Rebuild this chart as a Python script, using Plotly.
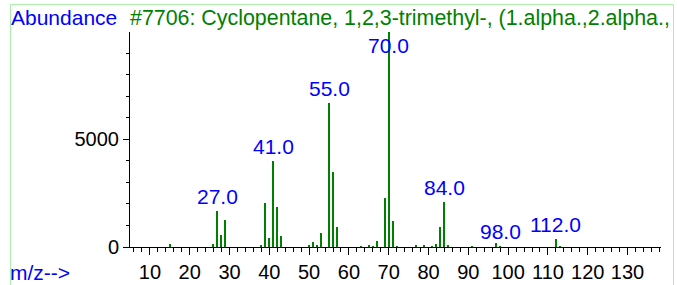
import plotly.graph_objects as go

# ---- data ----
mz = [15, 26, 27, 28, 29, 38, 39, 40, 41, 42, 43, 50, 51, 52, 53, 55, 56, 57,
      63, 65, 66, 67, 69, 70, 71, 72, 77, 79, 81, 82, 83, 84, 85, 91, 97, 98, 112, 113]
abundance = [140, 124, 1656, 580, 1260, 110, 2043, 420, 3978, 1858, 500, 110, 240, 95, 655, 6677, 3485, 940,
             31, 62, 31, 285, 2267, 9999, 1220, 31, 90, 80, 31, 145, 910, 2085, 100, 30, 186, 25, 390, 30]
label_mz = [27, 41, 55, 70, 84, 98, 112]
y_tick_vals = [0, 5000]
x_tick_vals = [10, 20, 30, 40, 50, 60, 70, 80, 90, 100, 110, 120, 130]
title_text = "#7706: Cyclopentane, 1,2,3-trimethyl-, (1.alpha.,2.alpha.,"

# ---- layout constants ----
W, H = 677, 285
ML, MR, MT, MB = 130, 16, 32, 38
PW, PH = W - ML - MR, H - MT - MB
X_RANGE = [5, 138.4]
Y_RANGE = [0, 9990]
FONT = "Liberation Sans, Arial, sans-serif"
GREEN = "#008000"
BLUE = "#0000FF"
BORDER = "#aaeeaa"
TXT = 21


def px2x(px):
    return (px - ML) / PW


def py2y(py):
    return (H - MB - py) / PH


fig = go.Figure()
fig.add_trace(go.Bar(x=mz, y=abundance, width=0.35,
                     marker=dict(color=GREEN, line=dict(width=0)),
                     hoverinfo="x+y"))

annotations = []
ab_map = dict(zip(mz, abundance))
for m in label_mz:
    v = ab_map.get(m, 0)
    if v > 0.85 * Y_RANGE[1]:
        annotations.append(dict(x=m, y=Y_RANGE[1], xref="x", yref="y", text=f"{m:.1f}",
                                showarrow=False, yanchor="top", xanchor="center",
                                font=dict(family=FONT, size=TXT, color=BLUE)))
    else:
        annotations.append(dict(x=m, y=v, xref="x", yref="y", text=f"{m:.1f}",
                                showarrow=False, yanchor="bottom", xanchor="center", yshift=1,
                                font=dict(family=FONT, size=TXT, color=BLUE)))

annotations.append(dict(x=px2x(9), y=py2y(18), xref="paper", yref="paper", text="Abundance",
                        showarrow=False, xanchor="left", yanchor="middle",
                        font=dict(family=FONT, size=TXT, color=BLUE)))
annotations.append(dict(x=px2x(128), y=py2y(18), xref="paper", yref="paper", text=title_text,
                        showarrow=False, xanchor="left", yanchor="middle",
                        font=dict(family=FONT, size=21.4, color=GREEN)))
annotations.append(dict(x=px2x(9), y=py2y(285), xref="paper", yref="paper", text="m/z-->",
                        showarrow=False, xanchor="left", yanchor="bottom", borderpad=0,
                        font=dict(family=FONT, size=TXT, color=BLUE)))

shapes = [
    dict(type="line", xref="paper", yref="paper", x0=px2x(10.5), x1=px2x(10.5), y0=py2y(4.5), y1=py2y(290),
         line=dict(color=BORDER, width=1)),
    dict(type="line", xref="paper", yref="paper", x0=px2x(10.5), x1=px2x(673.5), y0=py2y(4.5), y1=py2y(4.5),
         line=dict(color=BORDER, width=1)),
    dict(type="line", xref="paper", yref="paper", x0=px2x(673.5), x1=px2x(673.5), y0=py2y(4.5), y1=py2y(290),
         line=dict(color=BORDER, width=1)),
]

fig.update_layout(
    width=W, height=H, autosize=False,
    margin=dict(l=ML, r=MR, t=MT, b=MB, pad=0),
    paper_bgcolor="white", plot_bgcolor="white",
    showlegend=False, bargap=0,
    annotations=annotations, shapes=shapes,
    font=dict(family=FONT, color="black"),
)
fig.update_xaxes(range=X_RANGE, tickmode="array", tickvals=x_tick_vals, automargin=False,
                 ticks="outside", ticklen=7, tickwidth=1, tickcolor="black",
                 showline=True, linecolor="black", linewidth=1,
                 showgrid=False, zeroline=False,
                 tickfont=dict(family=FONT, size=20, color="black"),
                 minor=dict(dtick=2, tick0=0, ticks="outside", ticklen=4, tickcolor="black", showgrid=False))
fig.update_yaxes(range=Y_RANGE, tickmode="array", tickvals=y_tick_vals, automargin=False,
                 ticks="outside", ticklen=6, tickwidth=1, tickcolor="black",
                 showline=True, linecolor="black", linewidth=1,
                 showgrid=False, zeroline=False,
                 tickfont=dict(family=FONT, size=20, color="black"),
                 minor=dict(dtick=1000, tick0=0, ticks="outside", ticklen=3, tickcolor="black", showgrid=False))

fig.write_html("out.html", config={"displayModeBar": False},
               post_script="document.body.style.margin='0px';document.body.style.overflow='hidden';")
